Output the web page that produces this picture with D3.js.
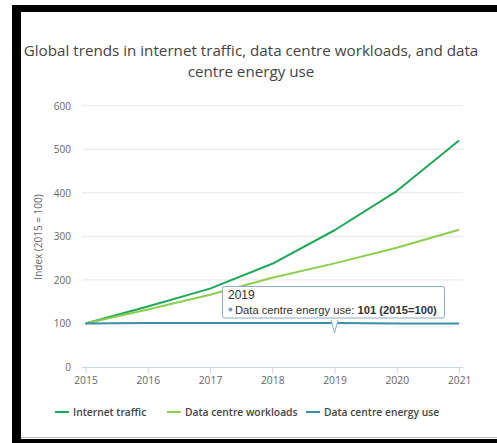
<!DOCTYPE html>
<html>
<head>
<meta charset="utf-8">
<script src="https://cdn.jsdelivr.net/npm/d3@7"></script>
<style>
  html, body { margin: 0; padding: 0; background: #fff; }
  svg { display: block; }
</style>
</head>
<body>
<svg id="chart" width="497" height="443"></svg>
<script>
// Index values, 2015 = 100
const years = [2015, 2016, 2017, 2018, 2019, 2020, 2021];
const internetTraffic = [100, 139, 180, 237, 314, 404, 520];
const dcWorkloads = [100, 132, 166, 205, 238, 274, 315];
const dcEnergyUse = [100, 101, 101, 101, 101, 100, 100];
const yTicks = [0, 100, 200, 300, 400, 500, 600];
const seriesNames = ["Internet traffic", "Data centre workloads", "Data centre energy use"];
const seriesColors = ["#1fa75a", "#8ccf4f", "#3b8ea5"];
const titleLines = ["Global trends in internet traffic, data centre workloads, and data", "centre energy use"];
const yTitle = "Index (2015 = 100)";
const tipYear = 2019;
const tipValue = 101;

const svg = d3.select("#chart");
const font = "'Open Sans', sans-serif";

// frame
svg.append("rect").attr("x", 0).attr("y", 0).attr("width", 497).attr("height", 443).attr("fill", "#fff");
svg.append("rect").attr("x", 12).attr("y", 5).attr("width", 485).attr("height", 7).attr("fill", "#000");
svg.append("rect").attr("x", 12).attr("y", 5).attr("width", 9).attr("height", 438).attr("fill", "#000");
svg.append("rect").attr("x", 12).attr("y", 439).attr("width", 485).attr("height", 4).attr("fill", "#000");
svg.append("line").attr("x1", 21).attr("x2", 497).attr("y1", 437.5).attr("y2", 437.5).attr("stroke", "#bbb");

// title
svg.append("g").selectAll("text").data(titleLines).join("text")
  .attr("x", 251).attr("y", (d, i) => 56 + i * 21)
  .attr("text-anchor", "middle")
  .attr("font-family", font).attr("font-size", 15.2).attr("fill", "#444")
  .text(d => d);

const x = d3.scaleLinear().domain([2015, 2021]).range([85.5, 459]);
const y = d3.scaleLinear().domain([0, 600]).range([367, 105.7]);

// horizontal grid
svg.append("g").selectAll("line").data(yTicks.filter(t => t > 0)).join("line")
  .attr("x1", 82).attr("x2", 463)
  .attr("y1", d => y(d)).attr("y2", d => y(d))
  .attr("stroke", "#e6e6e6").attr("stroke-width", 1);

// y axis labels
const yAxis = d3.axisLeft(y).tickValues(yTicks).tickSize(0).tickPadding(0);
const gy = svg.append("g").attr("transform", "translate(71,0)").call(yAxis);
gy.select(".domain").remove();
gy.selectAll("text").attr("font-family", font).attr("font-size", 10).attr("fill", "#666").attr("dy", "0.35em");

// y axis title
svg.append("text")
  .attr("transform", "translate(42,237) rotate(-90)")
  .attr("text-anchor", "middle")
  .attr("font-family", font).attr("font-size", 10).attr("fill", "#666")
  .text(yTitle);

// x axis
const xAxis = d3.axisBottom(x).tickValues(years).tickFormat(d3.format("d")).tickSize(6).tickPadding(4);
const gx = svg.append("g").attr("transform", `translate(0,${y(0)})`).call(xAxis);
gx.select(".domain").attr("d", "M82,0.5H463").attr("stroke", "#ccd6eb");
gx.selectAll(".tick line").attr("stroke", "#ccd6eb");
gx.selectAll("text").attr("font-family", font).attr("font-size", 10.3).attr("fill", "#666");
gx.selectAll(".tick").filter(d => d === 2021).select("text").attr("text-anchor", "end").attr("dx", 12);

// series lines
const series = [internetTraffic, dcWorkloads, dcEnergyUse];
const line = d3.line().x((d, i) => x(years[i])).y(d => y(d));
svg.append("g").selectAll("path").data(series).join("path")
  .attr("d", d => line(d))
  .attr("fill", "none")
  .attr("stroke", (d, i) => seriesColors[i])
  .attr("stroke-width", 2)
  .attr("stroke-linejoin", "round");

// legend
const legendX = [55, 167, 306];
const lg = svg.append("g").selectAll("g").data(seriesNames).join("g")
  .attr("transform", (d, i) => `translate(${legendX[i]},412)`);
lg.append("line").attr("x1", 0).attr("x2", 14).attr("y1", 0).attr("y2", 0)
  .attr("stroke", (d, i) => seriesColors[i]).attr("stroke-width", 2);
lg.append("text").attr("x", 18).attr("y", 4)
  .attr("font-family", font).attr("font-size", 10.3).attr("font-weight", 600).attr("fill", "#444")
  .text(d => d);

// tooltip for the energy-use point
const tipIdx = years.indexOf(tipYear);
const px = x(tipYear), py = y(dcEnergyUse[tipIdx]);
const tip = svg.append("g");
tip.append("path")
  .attr("d", `M${px - 3.5},${py - 3} L${px},${py + 10} L${px + 3.5},${py - 3}`)
  .attr("fill", "#fff").attr("stroke", "#8aaecb").attr("stroke-width", 1);
tip.append("rect")
  .attr("x", 222.5).attr("y", 286.5).attr("width", 222).attr("height", 31.5).attr("rx", 2)
  .attr("fill", "#fff").attr("stroke", "#8aaecb").attr("stroke-width", 1);
tip.append("text").attr("x", 228).attr("y", 299)
  .attr("font-family", "'Liberation Sans', Arial, sans-serif").attr("font-size", 12).attr("fill", "#333")
  .text(tipYear);
tip.append("circle").attr("cx", 230.5).attr("cy", 309.5).attr("r", 2).attr("fill", "#6f9fc4");
const t2 = tip.append("text").attr("x", 235).attr("y", 313.5)
  .attr("font-family", "'Liberation Sans', Arial, sans-serif").attr("font-size", 11.2).attr("fill", "#333");
t2.append("tspan").text(seriesNames[2] + ":  ");
t2.append("tspan").attr("font-weight", "bold").text(`${tipValue} (2015=100)`);
</script>
</body>
</html>
